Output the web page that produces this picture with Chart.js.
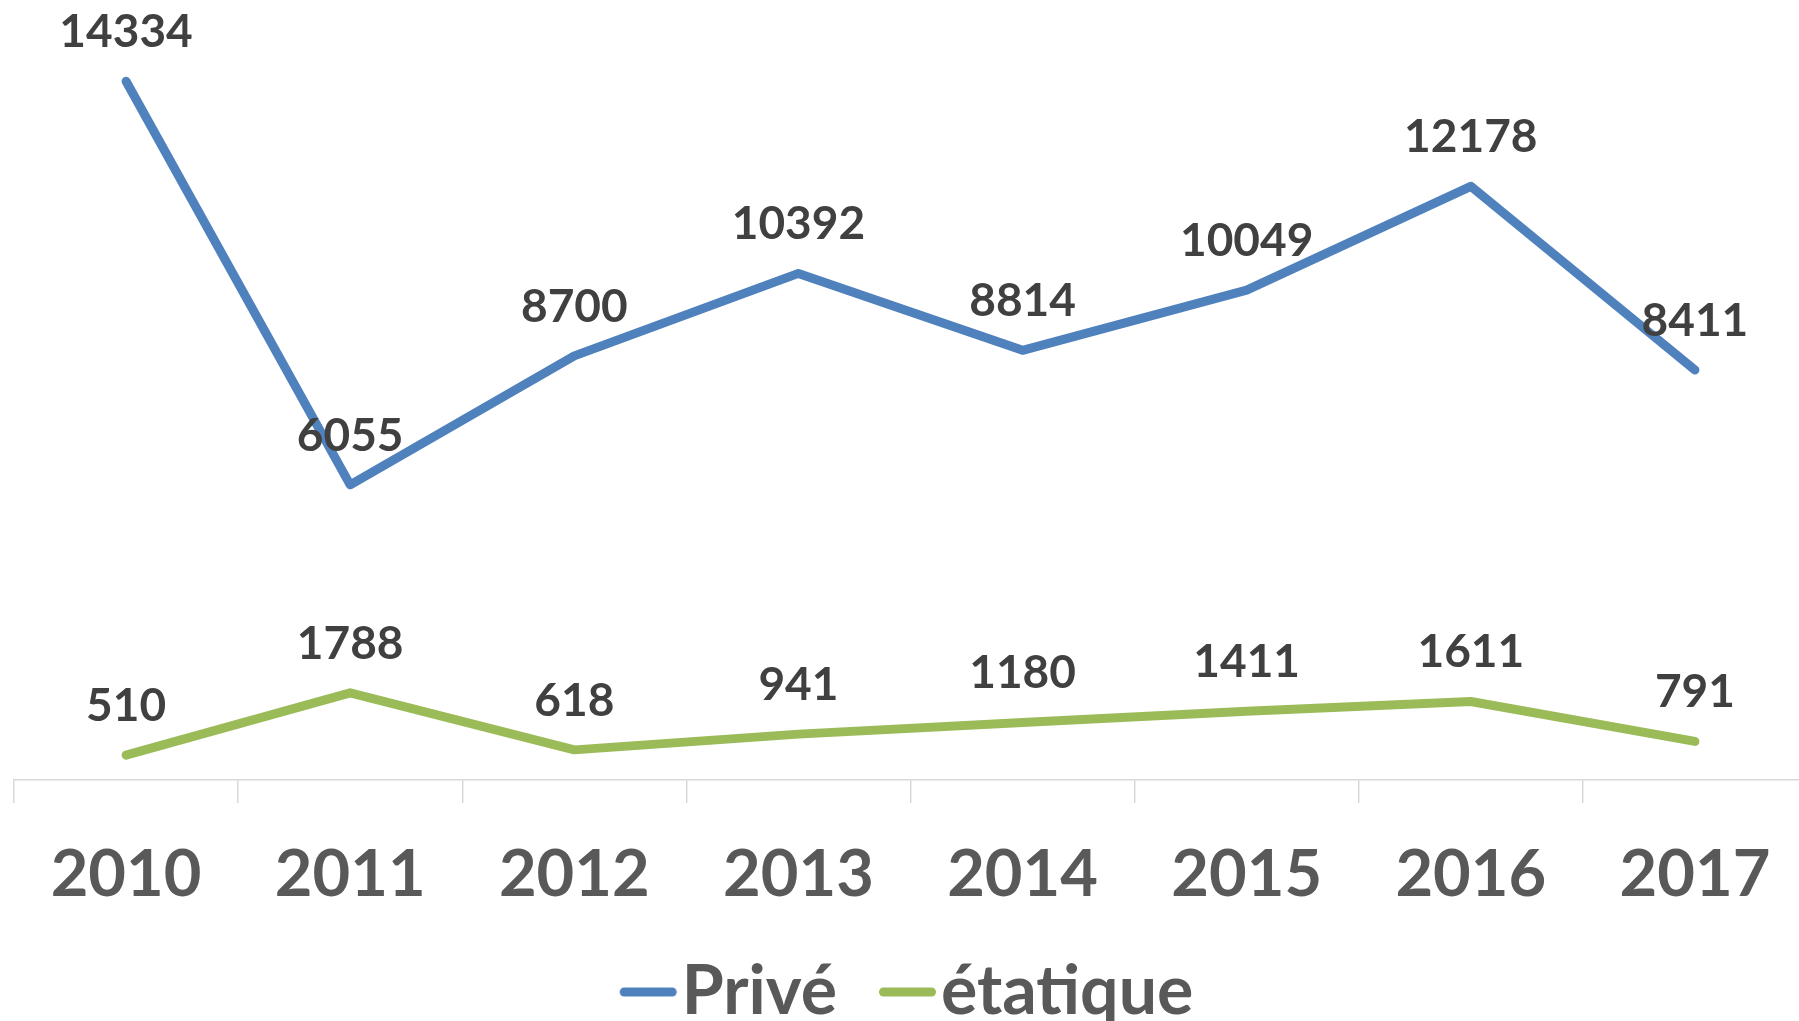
<!DOCTYPE html>
<html>
<head>
<meta charset="utf-8">
<script src="https://cdn.jsdelivr.net/npm/chart.js@4/dist/chart.umd.min.js"></script>
<style>
  html, body { margin: 0; padding: 0; background: #ffffff; overflow: hidden; }
  #wrap { width: 1807px; height: 1021px; position: relative; }
</style>
</head>
<body>
<div id="wrap"><canvas id="c"></canvas></div>
<script>
const years = ['2010', '2011', '2012', '2013', '2014', '2015', '2016', '2017'];
const prive = [14334, 6055, 8700, 10392, 8814, 10049, 12178, 8411];
const etatique = [510, 1788, 618, 941, 1180, 1411, 1611, 791];
const seriesNames = ['Privé', 'étatique'];
const seriesColors = ['#4F81BD', '#9BBB59'];

const FONT = 'Lato, "Open Sans", sans-serif';
const LINE_W = 9;

// legend marker: a short round-capped line placed close to the label text
function legendMarker(color) {
  const c = document.createElement('canvas');
  c.width = 80; c.height = 14;
  const g = c.getContext('2d');
  g.strokeStyle = color;
  g.lineWidth = LINE_W;
  g.lineCap = 'round';
  g.beginPath();
  g.moveTo(26.5, 7);
  g.lineTo(74.5, 7);
  g.stroke();
  return c;
}

const valueLabels = {
  id: 'valueLabels',
  afterDatasetsDraw(chart) {
    const ctx = chart.ctx;
    ctx.save();
    ctx.font = 'bold 46px ' + FONT;
    ctx.fillStyle = '#404040';
    ctx.textAlign = 'center';
    ctx.textBaseline = 'middle';
    chart.data.datasets.forEach((ds, i) => {
      const meta = chart.getDatasetMeta(i);
      meta.data.forEach((pt, j) => {
        ctx.fillText(String(ds.data[j]), pt.x, pt.y - 49);
      });
    });
    ctx.restore();
  }
};

function makeDataset(i, values) {
  return {
    label: seriesNames[i],
    data: values,
    borderColor: seriesColors[i],
    backgroundColor: seriesColors[i],
    borderWidth: LINE_W,
    borderCapStyle: 'round',
    borderJoinStyle: 'round',
    pointRadius: 0,
    pointStyle: legendMarker(seriesColors[i]),
    tension: 0,
    clip: false
  };
}

new Chart(document.getElementById('c'), {
  type: 'line',
  data: {
    labels: years,
    datasets: [makeDataset(0, prive), makeDataset(1, etatique)]
  },
  options: {
    responsive: true,
    maintainAspectRatio: false,
    animation: false,
    layout: { padding: { left: 14, right: 0, top: 0, bottom: -15 } },
    plugins: {
      tooltip: { enabled: false },
      legend: {
        position: 'bottom',
        labels: {
          usePointStyle: true,
          pointStyleWidth: 20,
          font: { family: FONT, size: 68, weight: 'bold' },
          color: '#595959',
          padding: 50
        }
      }
    },
    scales: {
      x: {
        offset: true,
        afterFit(scale) { scale.height -= 39; },
        grid: {
          offset: true,
          drawOnChartArea: false,
          drawTicks: true,
          tickLength: 23,
          color: '#d9d9d9',
          lineWidth: 1.5
        },
        border: { color: '#d9d9d9', width: 1.5 },
        ticks: {
          font: { family: FONT, size: 65, weight: 'bold' },
          color: '#595959',
          padding: 33,
          maxRotation: 0
        }
      },
      y: {
        display: false,
        min: 0,
        max: 16000
      }
    }
  },
  plugins: [valueLabels]
});
</script>
</body>
</html>
